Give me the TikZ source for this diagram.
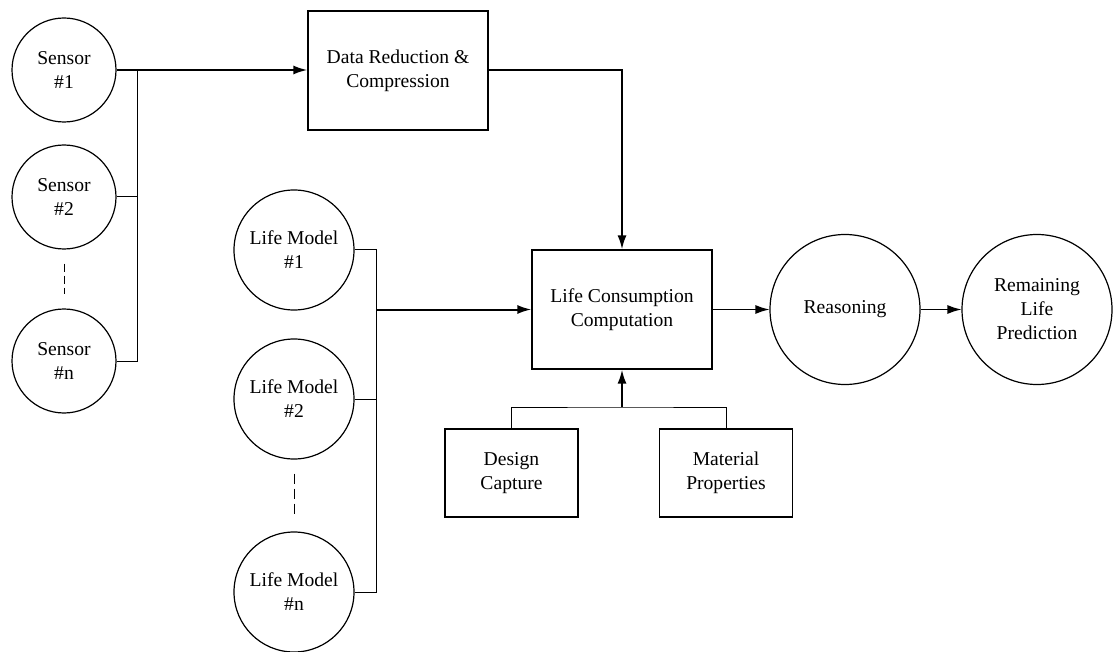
\documentclass[tikz,border=0pt]{standalone}
\usepackage{fontspec}
\setmainfont{Liberation Serif}
\usetikzlibrary{arrows.meta,positioning,calc}

\begin{document}
\begin{tikzpicture}[
  x=0.5pt, y=-0.5pt,
  every node/.style={font=\fontsize{9.8}{12}\selectfont, align=center},
  sensor/.style={draw, line width=0.6pt, circle, inner sep=0pt, minimum size=52pt},
  model/.style={draw, line width=0.6pt, circle, inner sep=0pt, minimum size=60pt},
  bigcirc/.style={draw, line width=0.6pt, circle, inner sep=0pt, minimum size=75pt},
  box/.style={draw, line width=0.6pt, inner sep=0pt, minimum width=90pt, minimum height=59.5pt},
  smallbox/.style={draw, line width=0.6pt, inner sep=0pt, minimum width=66.5pt, minimum height=44pt},
  arrow/.style={-{Latex[length=7pt,width=4.5pt]}, line width=1pt},
  thinarrow/.style={-{Latex[length=7pt,width=4.5pt]}, line width=0.6pt},
  link/.style={line width=0.5pt}
]
  \useasboundingbox (0,0) rectangle (1113,652);

  % sensors
  \node[sensor] (sensorA) at (64,70) {Sensor\\\#1};
  \node[sensor] (sensorB) at (64,197) {Sensor\\\#2};
  \node[sensor] (sensorN) at (64,361) {Sensor\\\#n};
  \draw[link, dashed, dash pattern=on 4pt off 2pt, shorten <=7pt, shorten >=7pt] (sensorB.south) -- (sensorN.north);

  \node[box] (reduce) at (398,70.5) {Data Reduction \&\\Compression};

  % life models
  \node[model] (lmA) at (294,250) {Life Model\\\#1};
  \node[model] (lmB) at (294,399) {Life Model\\\#2};
  \node[model] (lmN) at (294,592) {Life Model\\\#n};
  \draw[link, dashed, dash pattern=on 5pt off 2.5pt, shorten <=7pt, shorten >=6.5pt] (lmB.south) -- (lmN.north);

  \node[box] (consume) at (622,309.5) {Life Consumption\\Computation};
  \node[bigcirc] (reason) at (845,309.5) {Reasoning};
  \node[bigcirc] (predict) at (1037,309.5) {Remaining\\Life\\Prediction};

  \node[smallbox] (design) at (511.5,473) {Design\\Capture};
  \node[smallbox] (material) at (726,473) {Material\\Properties};

  % buses
  \coordinate (sbus) at (137,0);
  \coordinate (lbus) at (376,0);
  \coordinate (join) at (622,407);

  \draw[link] (sensorN.east) -| (sbus |- sensorA.east);
  \draw[link] (sensorB.east) -- (sensorB.east -| sbus);
  \draw[arrow] (sensorA.east) -- (sensorA.east -| reduce.west);

  \draw[arrow] (reduce.east) -| (consume.north);

  \draw[link] (lmA.east) -| (lbus |- lmN.east) -- (lmN.east);
  \draw[link] (lmB.east) -- (lmB.east -| lbus);
  \draw[arrow] (lbus |- consume.west) -- (consume.west);

  \draw[link] (design.north) |- (join) -| (material.north);
  \draw[arrow] (join) -- (consume.south);

  \draw[thinarrow] (consume.east) -- (reason.west);
  \draw[thinarrow] (reason.east) -- (predict.west);
\end{tikzpicture}
\end{document}
